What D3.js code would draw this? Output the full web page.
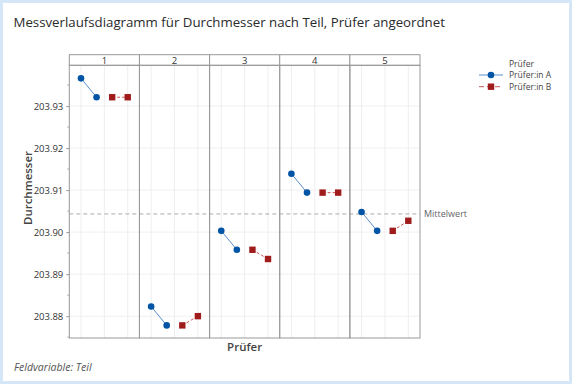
<!DOCTYPE html>
<html>
<head>
<meta charset="utf-8">
<script src="https://cdn.jsdelivr.net/npm/d3@7"></script>
<style>
  html, body { margin: 0; padding: 0; background: #fff; }
  svg { display: block; font-family: "Open Sans", sans-serif; }
</style>
</head>
<body>
<div id="chart"></div>
<script>
// data
const parts = ["1", "2", "3", "4", "5"];
const operators = ["Prüfer:in A", "Prüfer:in B"];
const valuesA = [
    [203.9366, 203.9321],
    [203.8823, 203.8778],
    [203.9003, 203.8958],
    [203.9139, 203.9094],
    [203.9048, 203.9003]
];
const valuesB = [
    [203.9321, 203.9321],
    [203.8778, 203.8800],
    [203.8958, 203.8936],
    [203.9094, 203.9094],
    [203.9003, 203.9027]
];
const yTicks = [203.88, 203.89, 203.90, 203.91, 203.92, 203.93];

document.addEventListener("DOMContentLoaded", function () {
    const w = 572, h = 384;
    const plotL = 69.3, plotR = 420, stripTop = 54.7, plotTop = 65.3, plotBottom = 338;
    const colA = "#0054a6", colB = "#a01c1c";

    const svg = d3.select("#chart").append("svg").attr("width", w).attr("height", h);

    // frame
    svg.append("rect").attr("x", 1.5).attr("y", 1.5).attr("width", w - 3).attr("height", h - 3)
        .attr("fill", "#fff").attr("stroke", "#d5e6f6").attr("stroke-width", 3);

    const title = svg.append("text").attr("x", 13.5).attr("y", 26.5).text("Messverlaufsdiagramm für Durchmesser nach Teil, Prüfer angeordnet")
        .style("font-size", "14px").attr("fill", "#2a2a2a");
    // fit the title to the reference width
    const tl = title.node().getComputedTextLength();
    title.style("font-size", (14 * 432 / tl) + "px");

    const panel = d3.scaleBand().domain(parts).range([plotL, plotR]);
    const xInner = d3.scaleLinear().domain([-0.75, 3.75]).range([0, panel.bandwidth()]);
    const yScale = d3.scaleLinear().domain([203.8748, 203.9397]).range([plotBottom, plotTop]);

    // grid
    const minor = d3.range(203.875, 203.94, 0.005);
    svg.append("g").selectAll("line").data(yTicks).enter().append("line")
        .attr("x1", plotL).attr("x2", plotR)
        .attr("y1", d => yScale(d)).attr("y2", d => yScale(d))
        .attr("stroke", "#f0f0f0");
    parts.forEach(p => {
        svg.append("g").selectAll("line").data([0, 1.5, 3]).enter().append("line")
            .attr("x1", d => panel(p) + xInner(d)).attr("x2", d => panel(p) + xInner(d))
            .attr("y1", plotTop).attr("y2", plotBottom)
            .attr("stroke", "#eeeeee");
    });

    // mean reference line
    const all = valuesA.flat().concat(valuesB.flat());
    const mean = d3.mean(all);
    svg.append("line").attr("x1", plotL).attr("x2", plotR)
        .attr("y1", yScale(mean)).attr("y2", yScale(mean))
        .attr("stroke", "#aaa").attr("stroke-dasharray", "4,3");
    svg.append("text").attr("x", 424).attr("y", yScale(mean) + 3).text("Mittelwert")
        .style("font-size", "9px").attr("fill", "#666");

    // y axis
    const yAxis = d3.axisLeft(yScale).tickValues(yTicks).tickFormat(d3.format(".2f")).tickSize(3).tickPadding(3);
    const ya = svg.append("g").attr("transform", "translate(" + plotL + ",0)").call(yAxis);
    ya.select(".domain").remove();
    ya.selectAll("line").attr("stroke", "#999");
    ya.selectAll("text").style("font-size", "9.5px").attr("fill", "#333").style("font-family", "'Open Sans', sans-serif");
    svg.append("g").selectAll("line").data(minor.filter(d => yTicks.every(t => Math.abs(t - d) > 0.001))).enter().append("line")
        .attr("x1", plotL - 2).attr("x2", plotL)
        .attr("y1", d => yScale(d)).attr("y2", d => yScale(d))
        .attr("stroke", "#aaa");

    // panel borders + strips
    parts.forEach(p => {
        svg.append("rect").attr("x", panel(p)).attr("y", stripTop).attr("width", panel.bandwidth()).attr("height", plotTop - stripTop)
            .attr("fill", "#fff").attr("stroke", "#999");
        svg.append("text").attr("x", panel(p) + panel.bandwidth() / 2).attr("y", 64).text(p)
            .attr("text-anchor", "middle").style("font-size", "9.5px").attr("fill", "#333");
        svg.append("rect").attr("x", panel(p)).attr("y", plotTop).attr("width", panel.bandwidth()).attr("height", plotBottom - plotTop)
            .attr("fill", "none").attr("stroke", "#999");
    });

    const line = d3.line().x(d => d[0]).y(d => yScale(d[1]));
    parts.forEach((p, i) => {
        const ptsA = valuesA[i].map((v, j) => [panel(p) + xInner(j), v]);
        const ptsB = valuesB[i].map((v, j) => [panel(p) + xInner(j + 2), v]);
        svg.append("path").attr("d", line(ptsA)).attr("fill", "none").attr("stroke", "#5b8fd0").attr("stroke-width", 1);
        svg.append("path").attr("d", line(ptsB)).attr("fill", "none").attr("stroke", "#c85a5a").attr("stroke-width", 1).attr("stroke-dasharray", "3,2");
        svg.selectAll(null).data(ptsA).enter().append("circle")
            .attr("cx", d => d[0]).attr("cy", d => yScale(d[1])).attr("r", 3.3).attr("fill", colA);
        svg.selectAll(null).data(ptsB).enter().append("rect")
            .attr("x", d => d[0] - 3.2).attr("y", d => yScale(d[1]) - 3.2).attr("width", 6.4).attr("height", 6.4).attr("fill", colB);
    });

    // axis titles
    svg.append("text").attr("transform", "rotate(-90)").attr("x", -188).attr("y", 32).text("Durchmesser")
        .attr("text-anchor", "middle").style("font-size", "11.5px").style("font-weight", "600").attr("fill", "#444");
    svg.append("text").attr("x", (plotL + plotR) / 2).attr("y", 351).text("Prüfer")
        .attr("text-anchor", "middle").style("font-size", "11.5px").style("font-weight", "600").attr("fill", "#444");
    svg.append("text").attr("x", 14).attr("y", 370.5).text("Feldvariable: Teil")
        .style("font-size", "10.5px").style("font-style", "italic").attr("fill", "#555");

    // legend
    const lg = svg.append("g");
    lg.append("text").attr("x", 509).attr("y", 66.5).text("Prüfer").style("font-size", "8.5px").attr("fill", "#444");
    operators.forEach((op, i) => {
        const yy = 75 + i * 11.7;
        lg.append("line").attr("x1", 479).attr("x2", 503).attr("y1", yy).attr("y2", yy)
            .attr("stroke", i === 0 ? "#5b8fd0" : "#c85a5a").attr("stroke-dasharray", i === 0 ? null : "5,3");
        if (i === 0) lg.append("circle").attr("cx", 491).attr("cy", yy).attr("r", 3.3).attr("fill", colA);
        else lg.append("rect").attr("x", 487.8).attr("y", yy - 3.2).attr("width", 6.4).attr("height", 6.4).attr("fill", colB);
        lg.append("text").attr("x", 509).attr("y", yy + 3).text(op).style("font-size", "8.5px").attr("fill", "#444");
    });
});
</script>
</body>
</html>
